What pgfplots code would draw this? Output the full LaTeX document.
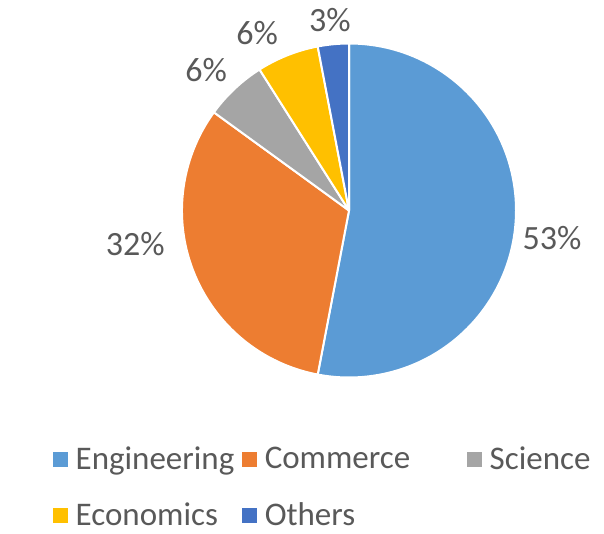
\documentclass[border=0pt]{standalone}
\usepackage{pgfplots}
\pgfplotsset{compat=1.18}
\usepackage{pgfplotstable}
\usepackage{fontspec}
\setmainfont{Carlito}

\definecolor{eng}{HTML}{5B9BD5}
\definecolor{com}{HTML}{ED7D31}
\definecolor{sci}{HTML}{A5A5A5}
\definecolor{eco}{HTML}{FFC000}
\definecolor{oth}{HTML}{4472C4}
\definecolor{txt}{HTML}{595959}

% share in percent, slice colour, label position (axis units, radius 1)
\pgfplotstableread{
name        value color lx     ly
Engineering 53    eng   1.216  -0.162
Commerce    32    com   -1.28  -0.20
Science     6     sci   -0.856 0.844
Economics   6     eco   -0.55  1.06
Others      3     oth   -0.114 1.138
}\piedata

\begin{document}
\begin{tikzpicture}
\useasboundingbox (0,0) rectangle (604pt,533pt);
\begin{axis}[
  scale only axis,
  width=334pt, height=334pt,
  at={(349pt,322.5pt)}, anchor=center,
  xmin=-1, xmax=1, ymin=-1, ymax=1,
  hide axis, clip=false,
  font=\fontsize{34}{40}\selectfont\color{txt},
  legend columns=3,
  legend cell align=left,
  legend image code/.code={\fill[#1] (0pt,-7pt) rectangle (14pt,7pt);},
  legend style={draw=none, fill=none,
    at={(-0.395,-0.195)}, anchor=north west,
    font=\fontsize{33}{40}\selectfont\color{txt},
    row sep=28pt,
    /tikz/every odd column/.style={column sep=6pt},
    /tikz/column 2/.style={column sep=6pt},
    /tikz/column 4/.style={column sep=55pt}},
]
\def\cum{0}
\pgfplotsforeachungrouped \i in {0,...,4}{
  \pgfplotstablegetelem{\i}{value}\of\piedata \let\v=\pgfplotsretval
  \pgfplotstablegetelem{\i}{color}\of\piedata \let\c=\pgfplotsretval
  \pgfplotstablegetelem{\i}{lx}\of\piedata \let\lx=\pgfplotsretval
  \pgfplotstablegetelem{\i}{ly}\of\piedata \let\ly=\pgfplotsretval
  \pgfmathsetmacro\a{90-3.6*\cum}
  \pgfmathsetmacro\b{90-3.6*(\cum+\v)}
  \edef\temp{%
    \noexpand\fill[\c, draw=white, line width=2pt, line join=round]
      (axis cs:0,0) -- (\a:1) arc[start angle=\a, end angle=\b, radius=1] -- cycle;
    \noexpand\node[text=txt] at (axis cs:\lx,\ly) {\v\noexpand\%};
  }\temp
  \pgfmathsetmacro\cum{\cum+\v}
}
\addlegendimage{eng}\addlegendentry{Engineering}
\addlegendimage{com}\addlegendentry{Commerce}
\addlegendimage{sci}\addlegendentry{Science}
\addlegendimage{eco}\addlegendentry{Economics}
\addlegendimage{oth}\addlegendentry{Others}
\end{axis}
\end{tikzpicture}
\end{document}
